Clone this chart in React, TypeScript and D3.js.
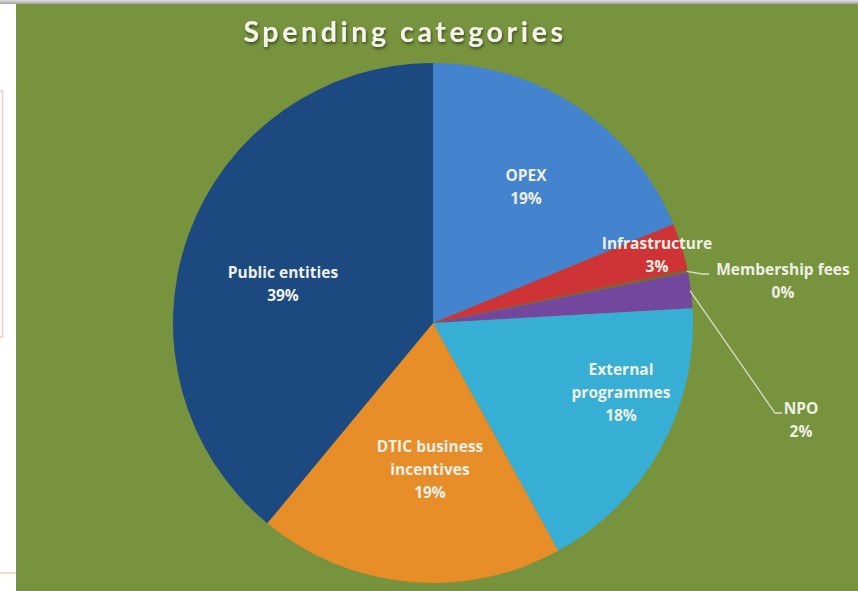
import React from "react";
import * as d3 from "d3";

const categories = ["OPEX", "Infrastructure", "Membership fees", "NPO", "External programmes", "DTIC business incentives", "Public entities"];
const values = [18.8, 2.9, 0.2, 2.2, 17.9, 19.0, 39.0];
const percentLabels = ["19%", "3%", "0%", "2%", "18%", "19%", "39%"];
const labelLines = [["OPEX"], ["Infrastructure"], ["Membership fees"], ["NPO"], ["External", "programmes"], ["DTIC business", "incentives"], ["Public entities"]];
const colors = ["#4a8ee0", "#e0373b", "#8a6a3a", "#7e4dad", "#3cbee8", "#fb992c", "#1f4f8c"];

const W = 858, H = 591;
const cx = 433, cy = 323, R = 260;
// label block centres (layout)
const labelPos: [number, number][] = [
  [526, 187], [657, 255], [783, 280.5], [801, 420], [621, 392], [430, 469], [283, 284],
];

export default function App() {
  const pie = d3.pie<number>().sort(null).value((d) => d);
  const arcs = pie(values);
  const arc = d3.arc<d3.PieArcDatum<number>>().innerRadius(0).outerRadius(R);

  const font = "'Open Sans', sans-serif";
  const edge = (i: number): [number, number] => {
    const a = arcs[i];
    const m = (a.startAngle + a.endAngle) / 2;
    return [cx + Math.sin(m) * (R - 1), cy - Math.cos(m) * (R - 1)];
  };
  const p2 = edge(2);
  const p3 = edge(3);

  return (
    <svg width={W} height={H} style={{ position: "absolute", left: 0, top: 0 }} fontFamily={font}>
      <defs>
        <linearGradient id="topbar" x1="0" y1="0" x2="0" y2="1">
          <stop offset="0" stopColor="#e0e0e0" />
          <stop offset="1" stopColor="#a0a0a0" />
        </linearGradient>
        <radialGradient id="shade" cx={cx} cy={cy} r={R} gradientUnits="userSpaceOnUse">
          <stop offset="0" stopColor="#000" stopOpacity="0" />
          <stop offset="0.9" stopColor="#000" stopOpacity="0" />
          <stop offset="1" stopColor="#000" stopOpacity="0.08" />
        </radialGradient>
        <filter id="tshadow" x="-10%" y="-30%" width="120%" height="160%">
          <feDropShadow dx="1" dy="2" stdDeviation="1.5" floodColor="#000" floodOpacity="0.5" />
        </filter>
      </defs>
      <rect x={0} y={0} width={W} height={H} fill="#ffffff" />
      <rect x={-2} y={91} width={4.5} height={246} fill="none" stroke="#f4c9bf" strokeWidth={1.5} />
      <line x1={0} y1={573} x2={16} y2={573} stroke="#f7c8c0" strokeWidth={1.5} />
      <rect x={16} y={4} width={W - 16} height={H - 4} fill="#78933d" />
      <rect x={0} y={0} width={W} height={4} fill="url(#topbar)" />

      <text x={405} y={42} textAnchor="middle" fill="#f4f6ee" fontSize={28.5} fontWeight={700}
        fontFamily="Lato, sans-serif" letterSpacing={3.6} filter="url(#tshadow)">Spending categories</text>

      <g transform={`translate(${cx},${cy})`}>
        {arcs.map((a, i) => (
          <path key={categories[i]} d={arc(a) || ""} fill={colors[i]} />
        ))}
        <circle r={R} fill="url(#shade)" />
      </g>

      <polyline fill="none" stroke="#d9e0c6" strokeWidth={1.3}
        points={`${p2[0]},${p2[1]} 702,274 709,274`} />
      <polyline fill="none" stroke="#d9e0c6" strokeWidth={1.3}
        points={`${p3[0]},${p3[1]} 775,413 782,413`} />

      {arcs.map((a, i) => {
        const [x, y] = labelPos[i];
        const lines = [...labelLines[i], percentLabels[i]];
        const lh = 23;
        const top = y - ((lines.length - 1) * lh) / 2;
        return (
          <text key={"t" + i} x={x} textAnchor="middle" fill="#eef0e6" fontSize={15.5} fontWeight={700}>
            {lines.map((l, k) => (
              <tspan key={k} x={x} y={top + k * lh + 5.5}>{l}</tspan>
            ))}
          </text>
        );
      })}
    </svg>
  );
}
